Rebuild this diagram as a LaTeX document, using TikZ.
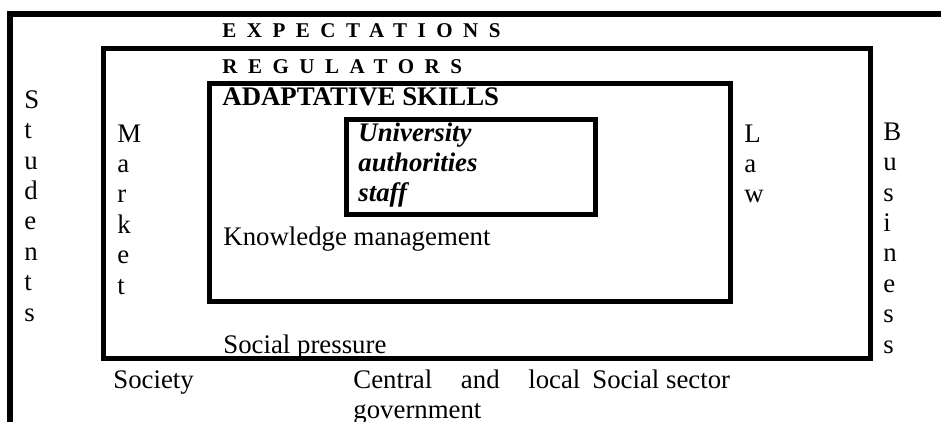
\documentclass[tikz,border=0pt]{standalone}
\usepackage{fontspec}
\setmainfont{Liberation Serif}
\newfontfamily\spacedfont[LetterSpace=50]{Liberation Serif}
\newcommand\bodyfont{\fontsize{13.4}{15.2}\selectfont}

\begin{document}
\begin{tikzpicture}[x=0.5pt, y=-0.5pt,
  frame/.style={draw, line width=2.5pt},
  txt/.style={anchor=base west, inner sep=0pt, font=\bodyfont},
  head/.style={anchor=base west, inner sep=0pt, font=\fontsize{10.5}{12}\selectfont\spacedfont\bfseries},
  vert/.style={txt, align=left}]
\useasboundingbox (0,0) rectangle (941,422);
\draw[line width=3pt] (941,14) -- (10,14) -- (10,422);
\draw[frame] (103,49) rectangle (870,358);
\draw[frame] (209,84) rectangle (730,301);
\draw[frame] (346,120) rectangle (595,215);
\node[head] (expect) at (222,37.5) {EXPECTATIONS};
\node[head] (regul) at (222,74) {REGULATORS};
\node[txt, font=\bodyfont\bfseries] (skills) at (222,106) {ADAPTATIVE SKILLS};
% multi-line nodes sit on the baseline of their last line
\node[vert, font=\bodyfont\bfseries\itshape] (univ) at (358,202) {University\\authorities\\staff};
\node[txt] (knowl) at (223,245) {Knowledge management};
\node[txt] (pressure) at (223,353) {Social pressure};
\node[vert] (students) at (24,321) {S\\t\\u\\d\\e\\n\\t\\s};
\node[vert] (market) at (117,294) {M\\a\\r\\k\\e\\t};
\node[vert] (law) at (744,203) {L\\a\\w};
\node[vert] (business) at (883,353) {B\\u\\s\\i\\n\\e\\s\\s};
\node[txt] (society) at (113,388) {Society};
\node[txt, text width=113.5pt, align=justify] (govt) at (353,388) {Central and local government};
\node[txt] (sector) at (592,388) {Social sector};
\end{tikzpicture}
\end{document}
